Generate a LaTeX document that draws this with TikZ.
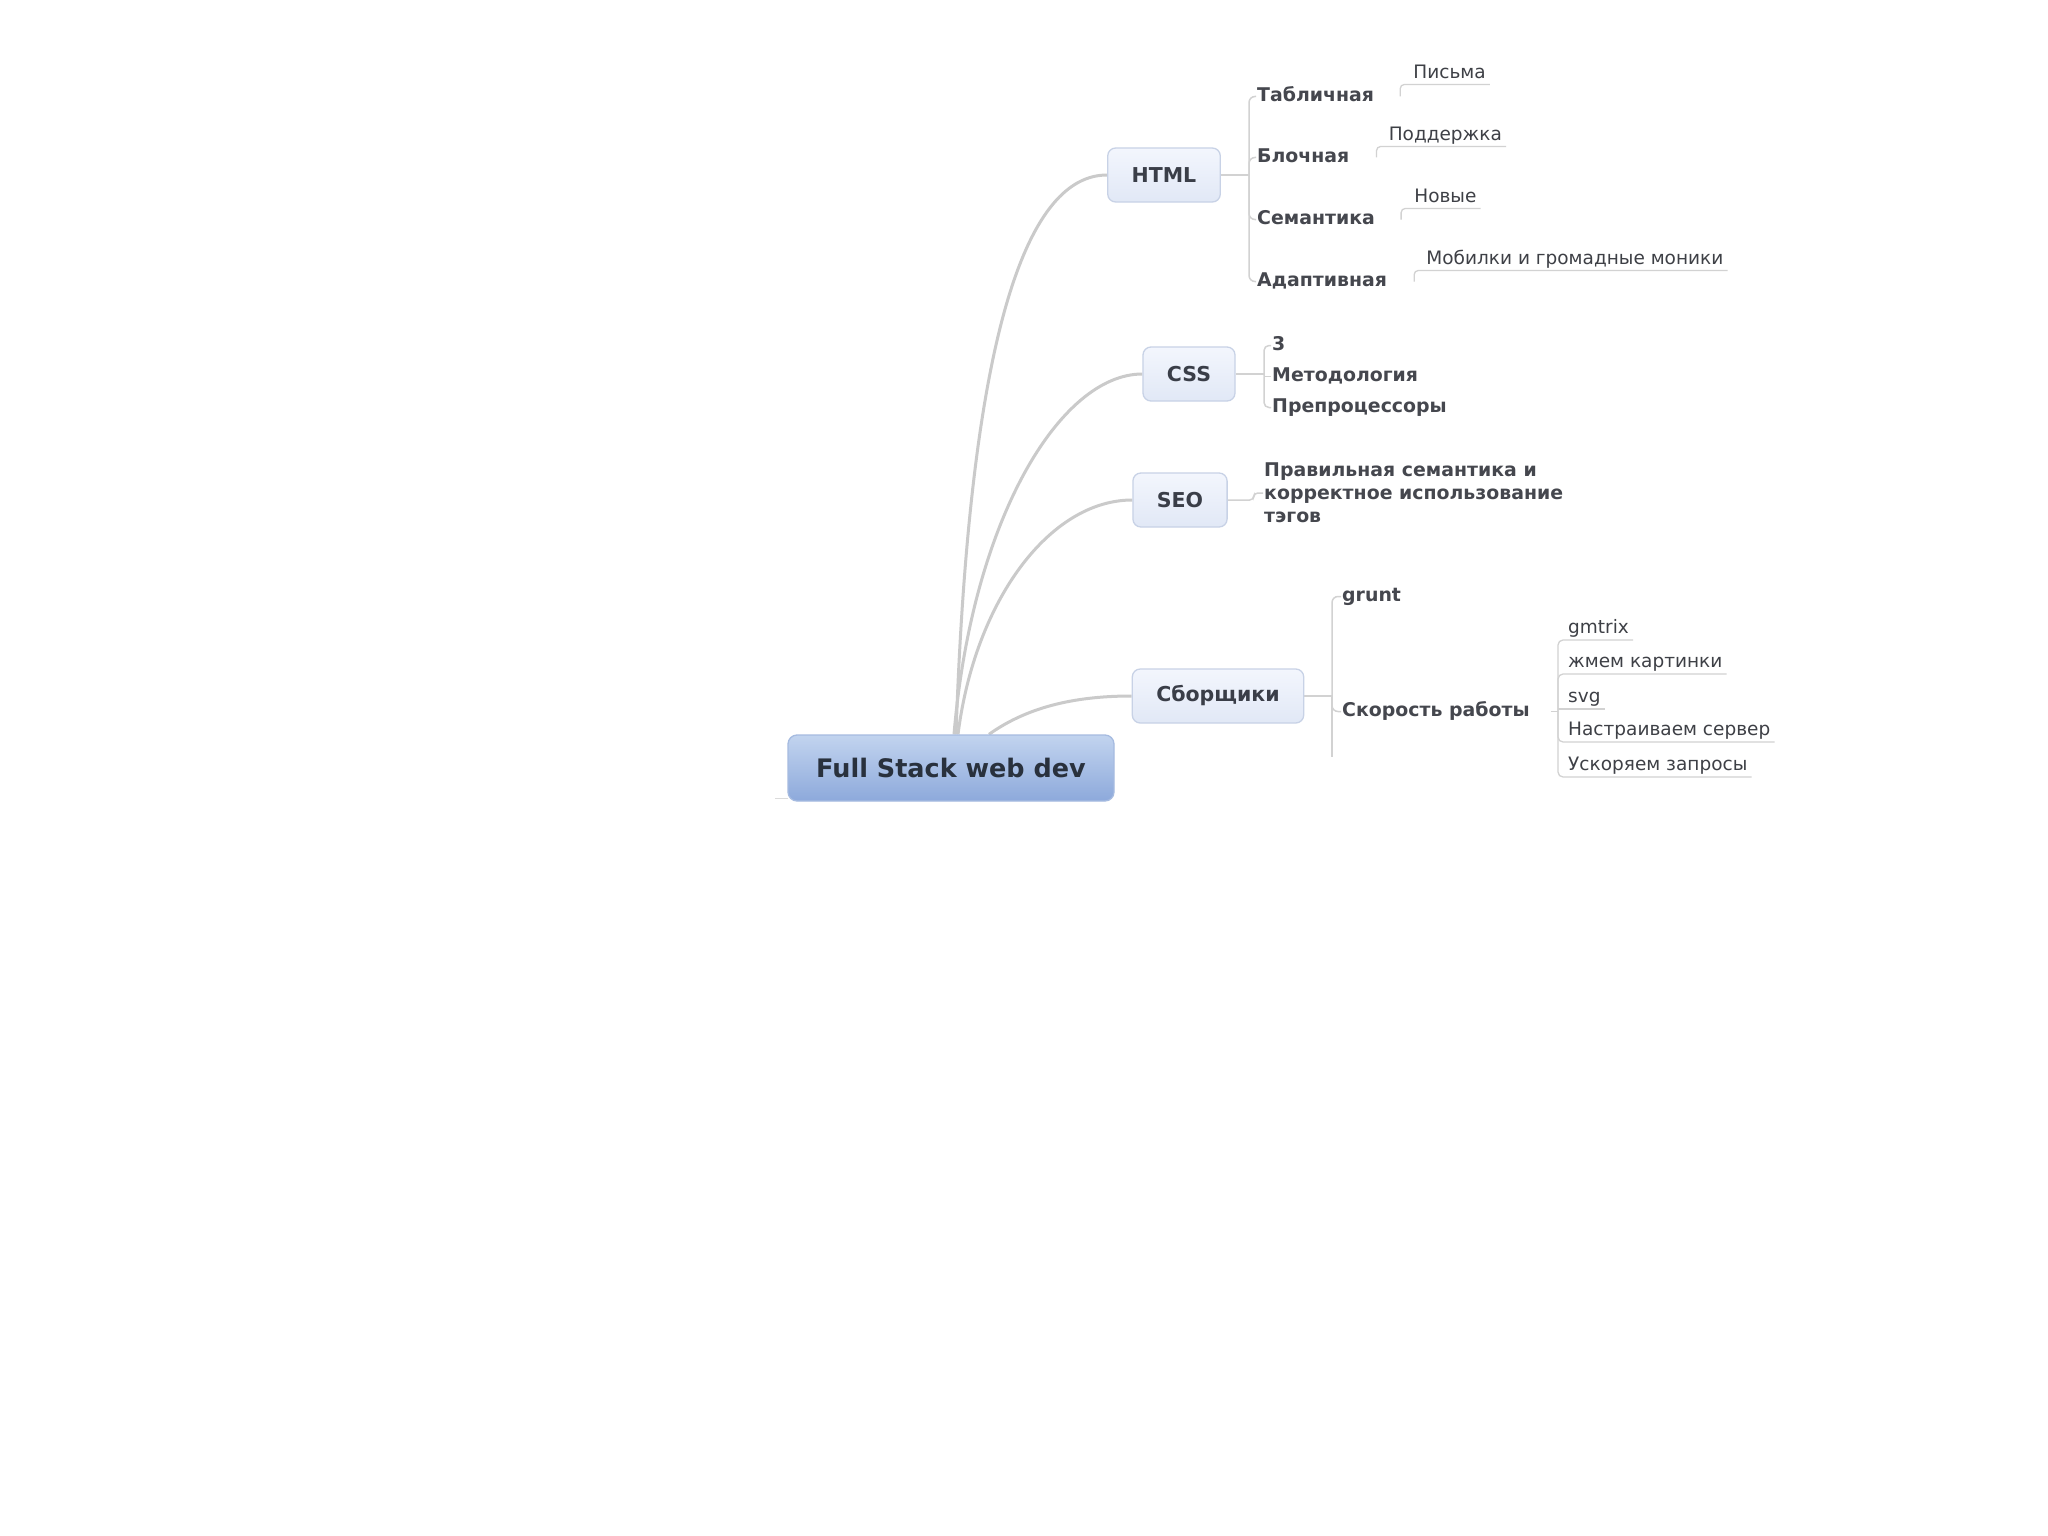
\documentclass[tikz,border=0pt]{standalone}
\usepackage{fontspec}
\setmainfont{DejaVu Sans}
\usetikzlibrary{calc}
\definecolor{topictop}{HTML}{F3F6FD}
\definecolor{topicbot}{HTML}{E1E8F6}
\definecolor{topicborder}{HTML}{C8D2E6}
\definecolor{roottop}{HTML}{C2D4EF}
\definecolor{rootbot}{HTML}{8DA9DB}
\definecolor{rootborder}{HTML}{A6BBE0}
\definecolor{txtdark}{HTML}{3A3E48}
\definecolor{roottxt}{HTML}{29313D}
\definecolor{txtsub}{HTML}{45474E}
\definecolor{txtleaf}{HTML}{3E4046}
\definecolor{curvecol}{HTML}{CACACA}
\definecolor{linecol}{HTML}{D2D2D2}
\pgfdeclarelayer{paper}
\pgfdeclarelayer{bg}
\pgfsetlayers{paper,bg,main}
\begin{document}
\begin{tikzpicture}[x=1pt,y=-1pt,
  topic/.style={draw=topicborder, line width=1.3pt, rounded corners=8pt,
    top color=topictop, bottom color=topicbot, inner xsep=24pt, inner ysep=0pt,
    minimum height=54pt, font=\fontsize{20.5}{24}\selectfont\bfseries, text=txtdark},
  rootbox/.style={draw=rootborder, line width=1.3pt, rounded corners=9pt,
    top color=roottop, bottom color=rootbot, minimum width=326pt, minimum height=66pt,
    font=\fontsize{25.5}{30}\selectfont\bfseries, text=roottxt},
  sub/.style={font=\fontsize{18.9}{23}\selectfont\bfseries, text=txtsub,
    inner sep=1pt, anchor=west, text height=14pt, text depth=4pt},
  leaf/.style={font=\fontsize{18.5}{22}\selectfont, text=txtleaf, inner sep=0pt,
    anchor=south west, text depth=6pt},
  branch/.style={draw=curvecol, line width=3pt},
  bline/.style={draw=linecol, line width=1.5pt, rounded corners=6pt},
  uline/.style={draw=linecol, line width=1.3pt, rounded corners=4pt},
  stub/.style={draw=linecol!80, line width=1.2pt}
]
\begin{pgfonlayer}{paper}
\useasboundingbox[fill=white] (0,0) rectangle (2048,1536);
\end{pgfonlayer}

% main nodes
\node[rootbox] (root) at (951,768) {Full Stack web dev};
\node[topic] (html) at (1164,175) {HTML};
\node[topic] (css) at (1189,374) {CSS};
\node[topic] (seo) at (1180,500) {SEO};
\node[topic] (sb) at (1218,696) {Сборщики};

% HTML children
\node[sub] (tab) at (1256,96.5) {Табличная};
\node[sub] (bl) at (1256,157.5) {Блочная};
\node[sub] (sem) at (1256,219.5) {Семантика};
\node[sub] (adap) at (1256,281.5) {Адаптивная};
\node[leaf] (pis) at ($(tab.east)+(38,-12)$) {Письма};
\node[leaf] (pod) at ($(bl.east)+(38,-11)$) {Поддержка};
\node[leaf] (nov) at ($(sem.east)+(38,-11)$) {Новые};
\node[leaf] (mob) at ($(adap.east)+(38,-11)$) {Мобилки и громадные моники};

% CSS children
\node[sub] (c3) at (1271,345.5) {3};
\node[sub] (met) at (1271,376.5) {Методология};
\node[sub] (pre) at (1271,407.5) {Препроцессоры};

% SEO child
\node[font=\fontsize{18.9}{23}\selectfont\bfseries, text=txtsub, inner sep=1pt,
  anchor=west, align=left] (seot) at (1263,493)
  {Правильная семантика и\\корректное использование\\тэгов};

% Sborshiki children
\node[sub] (grunt) at (1341,596.5) {grunt};
\node[sub] (sk) at (1341,711.5) {Скорость работы};
\node[leaf] (gm) at (1568,640) {gmtrix};
\node[leaf] (jm) at (1568,674) {жмем картинки};
\node[leaf] (svg) at (1568,709) {svg};
\node[leaf] (nas) at (1568,742) {Настраиваем сервер};
\node[leaf] (usk) at (1568,777) {Ускоряем запросы};

\coordinate (hb) at (1249,175);
\coordinate (cb) at (1264,376.5);
\coordinate (sbb) at (1332,696);
\coordinate (sbend) at (1332,757);
\coordinate (skb) at (1558,709);

\begin{pgfonlayer}{bg}
% main branches
\draw[branch] ($(root.north)+(5,0)$) .. controls (970,320) and (1030,175) .. (html.west);
\draw[branch] ($(root.north)+(3,0)$) .. controls (972,520) and (1060,374) .. (css.west);
\draw[branch] ($(root.north)+(7,0)$) .. controls (975,600) and (1050,500) .. (seo.west);
\draw[branch] ($(root.north)+(38,0)$) .. controls (1030,705) and (1080,696) .. (sb.west);
\draw[stub] ($(root.south west)+(1,-3)$) -- ++(-13,0);

% HTML bracket
\draw[bline] (html.east) -- (hb);
\draw[bline] (hb) |- (tab.west);
\draw[bline] (hb) |- (bl.west);
\draw[bline] (hb) |- (sem.west);
\draw[bline] (hb) |- (adap.west);
\draw[uline] ($(tab.east)+(25,0)$) |- ($(pis.south east)+(4,0)$);
\draw[uline] ($(bl.east)+(26,0)$) |- ($(pod.south east)+(4,0)$);
\draw[uline] ($(sem.east)+(25,0)$) |- ($(nov.south east)+(4,0)$);
\draw[uline] ($(adap.east)+(26,0)$) |- ($(mob.south east)+(4,0)$);

% CSS bracket
\draw[bline] (css.east) -- (css.east -| cb);
\draw[bline, rounded corners=5pt] (cb) |- (c3.west);
\draw[bline] (cb) -- (met.west);
\draw[bline, rounded corners=5pt] (cb) |- (pre.west);

% SEO
\draw[bline, rounded corners=4pt] (seo.east) -- ++(26,0) |- (seot.west);

% Sborshiki bracket
\draw[bline] (sb.east) -- (sbb);
\draw[bline] (sbb) |- (grunt.west);
\draw[bline] (sbb) |- (sk.west);
\draw[bline] (sbb) -- (sbend);
\draw[bline, shorten <=20pt] (sk.east) -- (sk.east -| skb);
\draw[uline, rounded corners=5pt] (skb) |- ($(gm.south east)+(4,0)$);
\draw[uline, rounded corners=5pt] (skb) |- ($(jm.south east)+(4,0)$);
\draw[uline] (skb) -- ($(svg.south east)+(4,0)$);
\draw[uline, rounded corners=5pt] (skb) |- ($(nas.south east)+(4,0)$);
\draw[uline, rounded corners=5pt] (skb) |- ($(usk.south east)+(4,0)$);
\end{pgfonlayer}
\end{tikzpicture}
\end{document}
